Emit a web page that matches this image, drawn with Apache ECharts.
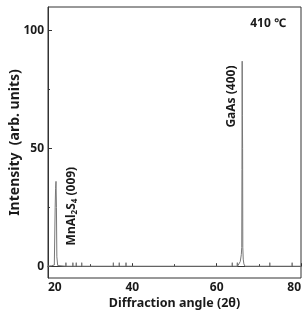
<!DOCTYPE html>
<html>
<head>
<meta charset="utf-8">
<script src="https://cdn.jsdelivr.net/npm/echarts@6/dist/echarts.min.js"></script>
<style>html,body{margin:0;padding:0;background:#fff;}#c{width:303px;height:310px;}</style>
</head>
<body>
<div id="c"></div>
<script>
var angle = [20, 20.8, 21.5, 21.7, 21.8, 21.9, 22.0, 22.1, 22.3, 24.2, 24.25, 24.3, 25.85, 25.9, 25.95, 26.65, 26.7, 26.75, 27.95, 28.0, 28.05, 35.45, 35.5, 35.55, 36.85, 36.9, 36.95, 38.45, 38.5, 38.55, 63.65, 63.7, 63.75, 64.85, 64.9, 64.95, 65.3, 65.6, 65.85, 65.95, 66.0, 66.05, 66.1, 66.15, 66.2, 66.3, 66.45, 66.7, 72.55, 72.6, 72.65, 77.85, 77.9, 77.95, 80];
var intensity = [0, 0.2, 0.5, 25, 33, 36, 25, 4, 0.3, 0, 1.5, 0, 0, 1.5, 0, 0, 1.5, 0, 0, 1.5, 0, 0, 1.5, 0, 0, 1.5, 0, 0, 1.5, 0, 0, 1.5, 0, 0, 1.5, 0, 0.5, 2, 5, 8, 41, 87, 64, 50, 8, 3, 1, 0, 0, 1.5, 0, 0, 1.5, 0, 0];
var xTicks = [20, 40, 60, 80];
var yLabels = [0, 50, 100];
var yMinor = [25, 75];
var annotations = [
  {text: 'MnAl{s|2}S{s|4} (009)', x: 25.7, y: 25.5, rotate: true},
  {text: 'GaAs (400)', x: 63.5, y: 72, rotate: true},
  {text: '410 ℃', x: 72.2, y: 103, rotate: false}
];

var chart = echarts.init(document.getElementById('c'), null, {renderer: 'canvas'});
var font = '"Noto Sans", "Open Sans", sans-serif';
var textColor = '#1a1a1a';
var data = angle.map(function (a, i) { return [a, intensity[i]]; });

chart.setOption({
  animation: false,
  backgroundColor: '#fff',
  grid: {left: 48, right: 2, top: 7, bottom: 32, show: true, borderColor: '#333', borderWidth: 1, backgroundColor: 'transparent',
    containLabel: false, outerBoundsMode: 'none'},
  xAxis: {
    type: 'value', min: 20, max: 80, interval: 20,
    name: 'Diffraction angle (2θ)', nameLocation: 'middle', nameGap: 19, nameMoveOverlap: false,
    nameTextStyle: {fontFamily: font, fontWeight: 'bold', fontSize: 12.5, color: textColor},
    axisLine: {show: true, lineStyle: {color: '#333', width: 1}},
    axisTick: {show: true, inside: true, length: 3, lineStyle: {color: '#333'}},
    minorTick: {show: true, splitNumber: 2, length: 2, lineStyle: {color: '#333'}},
    splitLine: {show: false},
    axisLabel: {fontFamily: font, fontWeight: 'bold', fontSize: 12, color: textColor, margin: 4,
      alignMinLabel: 'left', alignMaxLabel: 'right',
      customValues: xTicks}
  },
  yAxis: [{
    type: 'value', min: -5, max: 110,
    name: 'Intensity  (arb. units)', nameLocation: 'middle', nameGap: 26, nameMoveOverlap: false,
    nameTextStyle: {fontFamily: font, fontWeight: 'bold', fontSize: 14, color: textColor},
    axisLine: {show: true, lineStyle: {color: '#333', width: 1}},
    axisTick: {show: true, inside: true, length: 4, customValues: yLabels, lineStyle: {color: '#333'}},
    splitLine: {show: false},
    axisLabel: {fontFamily: font, fontWeight: 'bold', fontSize: 12, color: textColor, margin: 4, customValues: yLabels}
  }, {
    type: 'value', min: -5, max: 110, position: 'left',
    axisLine: {show: false},
    axisTick: {show: true, inside: true, length: 2, customValues: yMinor, lineStyle: {color: '#333'}},
    splitLine: {show: false},
    axisLabel: {show: false}
  }],
  series: [{
    type: 'line', data: data, showSymbol: false, symbol: 'none',
    lineStyle: {color: '#777', width: 1}
  }]
});

var graphics = annotations.map(function (a) {
  var p = chart.convertToPixel({gridIndex: 0}, [a.x, a.y]);
  return {
    type: 'text', x: p[0], y: p[1], rotation: a.rotate ? Math.PI / 2 : 0,
    style: {
      text: a.text, fontFamily: font, fontWeight: 'bold', fontSize: 12, fill: textColor,
      align: 'center', verticalAlign: 'middle',
      rich: {s: {fontFamily: font, fontWeight: 'bold', fontSize: 8, fill: textColor, verticalAlign: 'bottom', padding: [6, 0, 0, 0]}}
    }
  };
});
chart.setOption({graphic: graphics});
</script>
</body>
</html>
